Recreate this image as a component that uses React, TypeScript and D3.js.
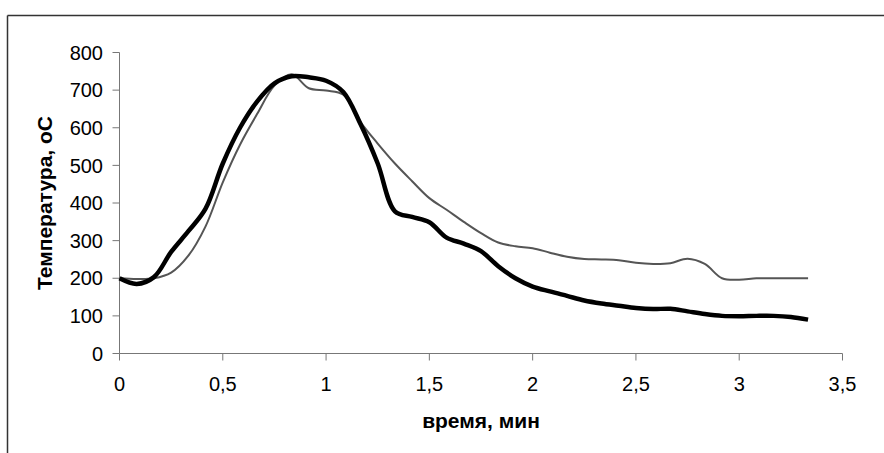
import React from 'react'
import * as d3 from 'd3'

// time in minutes, one reading every 5 s
const times = d3.range(41).map(i => i / 12)

// thick black curve
const seriesBlack = [
  200, 185, 203, 270, 325, 385, 505, 600, 670, 718, 737, 734, 725, 695, 610, 505, 378, 363, 349, 308, 292,
  272, 232, 200, 178, 165, 153, 141, 133, 127, 121, 118, 119, 112, 105, 100, 99, 100, 100, 97, 90,
]

// thin grey curve
const seriesGrey = [
  200, 198, 200, 215, 260, 338, 455, 555, 637, 712, 742, 705, 699, 688, 615, 558, 505, 458, 413, 382, 350,
  320, 295, 285, 280, 268, 257, 251, 250, 248, 241, 238, 240, 252, 238, 200, 196, 200, 200, 200, 200,
]

const xTicks = [0, 0.5, 1, 1.5, 2, 2.5, 3, 3.5]
const yTicks = [0, 100, 200, 300, 400, 500, 600, 700, 800]

const xTitle = 'время, мин'
const yTitle = 'Температура, оС'

const W = 884
const H = 453
const font = 'Arial, "Liberation Sans", sans-serif'

const App = () => {
  const x = d3.scaleLinear().domain([0, 3.5]).range([119.5, 842.5])
  const y = d3.scaleLinear().domain([0, 800]).range([353.5, 52.5])

  const line = d3
    .line<number>()
    .x((_, i) => x(times[i]))
    .y(d => y(d))
    .curve(d3.curveCatmullRom.alpha(0.5))

  const fmt = (v: number) => String(v).replace('.', ',')

  return (
    <svg width={W} height={H} style={{ position: 'absolute', left: 0, top: 0, background: '#fff' }}>
      {/* outer chart frame, only top and left edges visible */}
      <line x1={7.5} x2={W} y1={15.5} y2={15.5} stroke="#333" strokeWidth={1.5} />
      <line x1={7.5} x2={7.5} y1={15.5} y2={H} stroke="#333" strokeWidth={1.5} />

      {/* y axis */}
      <line x1={x(0)} x2={x(0)} y1={y(800)} y2={y(0)} stroke="#777" />
      {yTicks.map(t => (
        <g key={t}>
          <line x1={x(0) - 7} x2={x(0)} y1={y(t)} y2={y(t)} stroke="#777" />
          <text x={103} y={y(t)} dy="0.36em" textAnchor="end" fontFamily={font} fontSize={20} fill="#000">
            {t}
          </text>
        </g>
      ))}

      {/* x axis */}
      <line x1={x(0)} x2={x(3.5)} y1={y(0)} y2={y(0)} stroke="#777" />
      {xTicks.map(t => (
        <g key={t}>
          <line x1={x(t)} x2={x(t)} y1={y(0)} y2={y(0) + 7} stroke="#777" />
          <text x={x(t)} y={391} textAnchor="middle" fontFamily={font} fontSize={20} fill="#000">
            {fmt(t)}
          </text>
        </g>
      ))}

      <text x={481} y={428} textAnchor="middle" fontFamily={font} fontSize={21} fontWeight="bold">
        {xTitle}
      </text>
      <text
        transform={`translate(52,203) rotate(-90)`}
        textAnchor="middle"
        fontFamily={font}
        fontSize={21}
        fontWeight="bold"
      >
        {yTitle}
      </text>

      <path d={line(seriesGrey) ?? ''} fill="none" stroke="#555" strokeWidth={2} />
      <path d={line(seriesBlack) ?? ''} fill="none" stroke="#000" strokeWidth={4.5} strokeLinejoin="round" />
    </svg>
  )
}

export default App
